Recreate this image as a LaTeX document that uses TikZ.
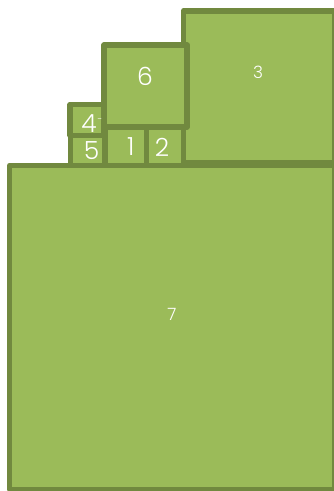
\documentclass[tikz,border=0pt]{standalone}
\usepackage{fontspec}
\usepackage{xcolor}
\usepackage{tikz}
\usetikzlibrary{positioning}
\newfontfamily\numfont{Poppins}[UprightFont=* Light]
\definecolor{leaf}{HTML}{9BBB59}
\definecolor{rim}{HTML}{71893F}

\tikzset{
    tile/.style={rectangle, draw=rim, fill=leaf, line width=5.5pt, line join=round, inner sep=0pt},
    bignum/.style={text=white, inner sep=0pt, font=\numfont\fontsize{25}{25}\selectfont},
    smallnum/.style={text=white, inner sep=0pt, font=\numfont\fontsize{17}{17}\selectfont}
}

\begin{document}
\begin{tikzpicture}[x=1pt, y=-1pt]
    \useasboundingbox (0,0) rectangle (334,491);

    \node[tile, minimum width=151pt, minimum height=151.7pt] (sq3) at (259,86.6) {};
    \node[tile, minimum width=324.7pt, minimum height=323.9pt] (sq7) at (172,327.5) {};
    \node[tile, minimum width=33.7pt, minimum height=30pt] (sq5) at (87.4,150.5) {};
    \node[tile, minimum width=34.2pt, minimum height=31.1pt] (sq4) at (87.1,120) {};
    \node[tile, minimum width=41.6pt, minimum height=39pt] (sq1) at (126.3,146) {};
    \node[tile, minimum width=37pt, minimum height=39pt] (sq2) at (165,146) {};
    \node[tile, minimum width=83pt, minimum height=81.8pt] (sq6) at (145.7,85.9) {};

    \node[smallnum] (n3) at (258,72) {3};
    \node[smallnum] (n7) at (172,314) {7};
    \node[bignum] (n6) at (145,76) {6};
    \node[bignum] (n1) at (130.7,147) {1};
    \node[bignum] (n2) at (162,147) {2};
    \node[bignum] (n5) at (91.5,151) {5};
    \node[bignum] (n4) at (89,124) {4};
    \node[text=white, inner sep=0pt, font=\numfont\fontsize{9}{9}\selectfont, right=0.5pt of n4.north east, anchor=north west, yshift=-4pt] (d4) {-};
\end{tikzpicture}
\end{document}
